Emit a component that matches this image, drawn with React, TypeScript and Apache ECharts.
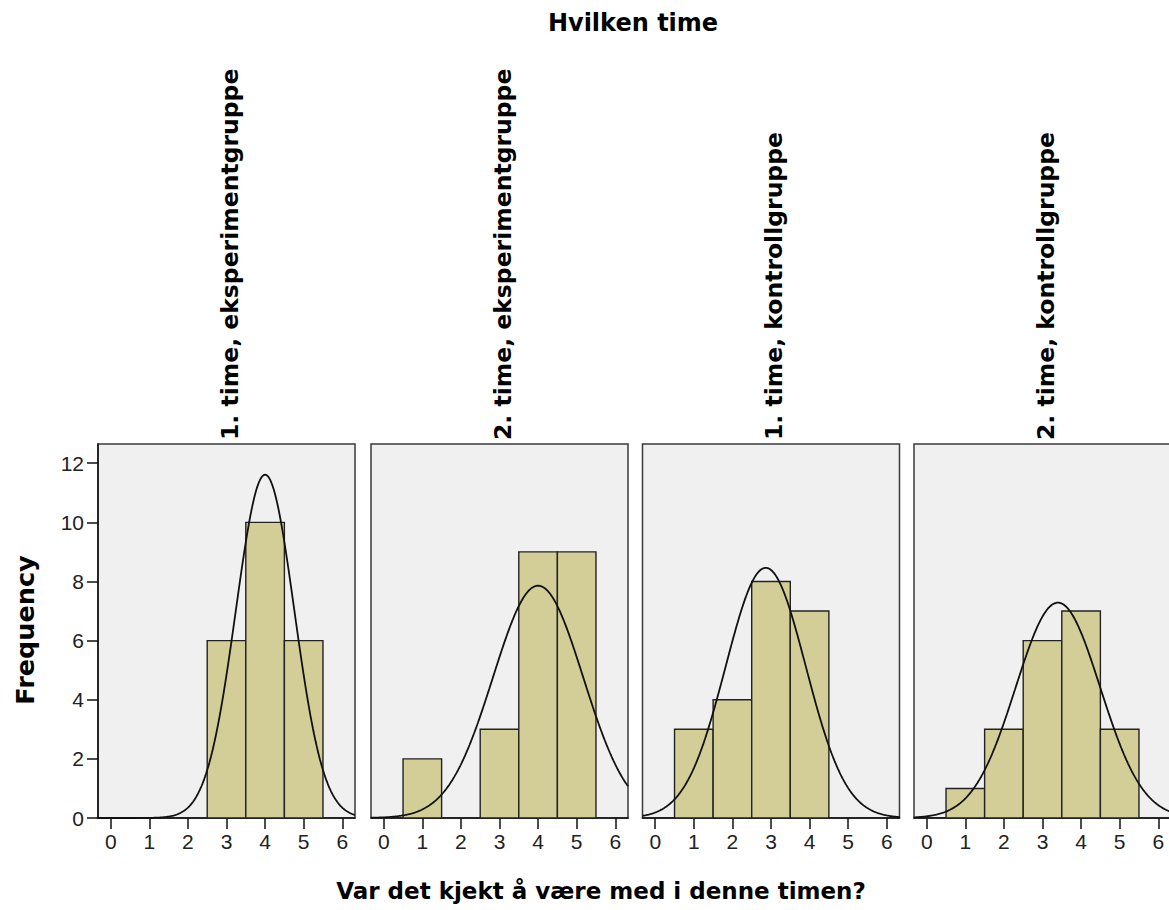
import React, { useEffect, useRef } from 'react';
import * as echarts from 'echarts';

const chartTitle = 'Hvilken time';
const xTitle = 'Var det kjekt å være med i denne timen?';
const yTitle = 'Frequency';
const panelNames = [
  '1. time, eksperimentgruppe',
  '2. time, eksperimentgruppe',
  '1. time, kontrollgruppe',
  '2. time, kontrollgruppe',
];
const scoreValues = [1, 2, 3, 4, 5];
const exp1Counts = [0, 0, 6, 10, 6];
const exp2Counts = [2, 0, 3, 9, 9];
const ctrl1Counts = [3, 4, 8, 7, 0];
const ctrl2Counts = [1, 3, 6, 7, 3];
const xTicks = [0, 1, 2, 3, 4, 5, 6];
const yTicks = [0, 2, 4, 6, 8, 10, 12];

const panelCounts = [exp1Counts, exp2Counts, ctrl1Counts, ctrl2Counts];

// layout
const PANEL_LEFTS = [98, 371, 642.5, 914];
const PANEL_W = 257;
const PANEL_TOP = 444;
const PANEL_H = 374;
const X_MIN = -0.33;
const X_MAX = 6.33;
const Y_MAX = 12.65;
const BOLD = "bold 23.5px 'DejaVu Sans'";

function normalCurve(counts: number[]) {
  const n = counts.reduce((a, b) => a + b, 0);
  const mean = counts.reduce((a, c, k) => a + c * scoreValues[k], 0) / n;
  const variance =
    counts.reduce((a, c, k) => a + c * (scoreValues[k] - mean) ** 2, 0) / (n - 1);
  const sd = Math.sqrt(variance);
  const pts: number[][] = [];
  const steps = 300;
  for (let i = 0; i <= steps; i++) {
    const x = X_MIN + ((X_MAX - X_MIN) * i) / steps;
    const y = (n / (sd * Math.sqrt(2 * Math.PI))) * Math.exp(-((x - mean) ** 2) / (2 * sd * sd));
    pts.push([x, y]);
  }
  return pts;
}

export default function App() {
  const ref = useRef<HTMLDivElement>(null);
  useEffect(() => {
    if (!ref.current) return;
    const chart = echarts.init(ref.current, undefined, { renderer: 'svg' });

    const grid = PANEL_LEFTS.map((l) => ({
      left: l,
      top: PANEL_TOP,
      width: PANEL_W,
      height: PANEL_H,
      show: true,
      backgroundColor: '#f0f0f0',
      borderColor: '#3a3a3a',
      borderWidth: 1.5,
      containLabel: false,
    }));

    const xAxis = PANEL_LEFTS.map((_, i) => ({
      type: 'value',
      gridIndex: i,
      min: X_MIN,
      max: X_MAX,
      axisLine: { show: true, onZero: false, lineStyle: { color: '#111', width: 1.5 } },
      axisTick: { show: true, customValues: xTicks, length: 11, lineStyle: { color: '#111', width: 1.5 } },
      axisLabel: {
        customValues: xTicks,
        margin: 13,
        fontSize: 21,
        fontFamily: 'Liberation Sans',
        color: '#222',
      },
      splitLine: { show: false },
    }));

    const yAxis = PANEL_LEFTS.map((_, i) => ({
      type: 'value',
      gridIndex: i,
      min: 0,
      max: Y_MAX,
      axisLine: { show: i === 0, onZero: false, lineStyle: { color: '#111', width: 1.5 } },
      axisTick: { show: i === 0, customValues: yTicks, length: 11, lineStyle: { color: '#111', width: 1.5 } },
      axisLabel: {
        show: i === 0,
        customValues: yTicks,
        margin: 14,
        fontSize: 21,
        fontFamily: 'Liberation Sans',
        color: '#222',
      },
      splitLine: { show: false },
    }));

    const series: any[] = [];
    panelCounts.forEach((counts, i) => {
      series.push({
        type: 'custom',
        xAxisIndex: i,
        yAxisIndex: i,
        encode: { x: 0, y: 1 },
        data: scoreValues.map((v, k) => [v, counts[k]]).filter((d) => d[1] > 0),
        renderItem: (params: any, api: any) => {
          const x = api.value(0);
          const y = api.value(1);
          const p0 = api.coord([x - 0.5, y]);
          const p1 = api.coord([x + 0.5, 0]);
          return {
            type: 'rect',
            shape: { x: p0[0], y: p0[1], width: p1[0] - p0[0], height: p1[1] - p0[1] },
            style: { fill: '#d3ce97', stroke: '#222', lineWidth: 1.4 },
          };
        },
        z: 2,
      });
      series.push({
        type: 'line',
        xAxisIndex: i,
        yAxisIndex: i,
        data: normalCurve(counts),
        showSymbol: false,
        symbol: 'none',
        smooth: false,
        clip: true,
        lineStyle: { color: '#111', width: 1.8 },
        z: 3,
      });
    });

    const graphic: any[] = [
      {
        type: 'text',
        x: 633,
        y: 23,
        style: { text: chartTitle, font: "bold 24px 'DejaVu Sans'", fill: '#000', textAlign: 'center', textVerticalAlign: 'middle' },
      },
      {
        type: 'text',
        x: 601,
        y: 891,
        style: { text: xTitle, font: "bold 23px 'DejaVu Sans'", fill: '#000', textAlign: 'center', textVerticalAlign: 'middle' },
      },
      {
        type: 'text',
        x: 25,
        y: 630,
        rotation: Math.PI / 2,
        style: { text: yTitle, font: "bold 25.5px 'DejaVu Sans'", fill: '#000', textAlign: 'center', textVerticalAlign: 'middle' },
      },
      ...panelNames.map((name, i) => ({
        type: 'text',
        x: PANEL_LEFTS[i] + PANEL_W / 2 + 3,
        y: 440,
        rotation: Math.PI / 2,
        style: { text: name, font: BOLD, fill: '#000', textAlign: 'left', textVerticalAlign: 'middle' },
      })),
    ];

    chart.setOption({
      animation: false,
      backgroundColor: '#ffffff',
      grid,
      xAxis,
      yAxis,
      series,
      graphic,
    });
    return () => chart.dispose();
  }, []);
  return (
    <div
      style={{ position: 'absolute', left: 0, top: 0, width: 1169, height: 910, overflow: 'hidden' }}
    >
      <div ref={ref} style={{ width: 1185, height: 910 }} />
    </div>
  );
}
